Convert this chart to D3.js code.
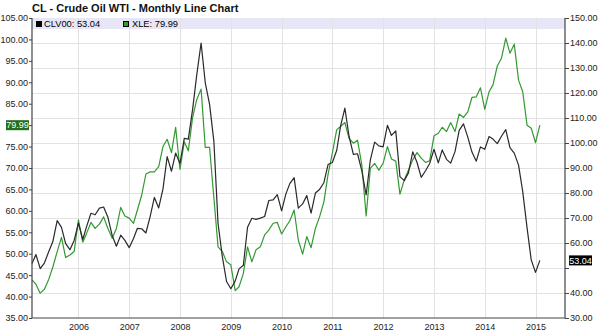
<!DOCTYPE html>
<html><head><meta charset="utf-8">
<script src="https://cdn.jsdelivr.net/npm/d3@7"></script>
<style>
html,body{margin:0;padding:0;background:#fff;}
svg{display:block;font-family:"Liberation Sans",Arial,sans-serif;}
</style></head>
<body><svg id="c" width="598" height="335"></svg>
<script>
// Months: Feb 2005 .. Feb 2015
const startMonth = "2005-02";
// CLV00 monthly close (right axis)
const clValues = [
 51.75,55.40,49.72,51.97,56.50,60.57,68.94,66.24,59.76,57.32,61.04,
 67.92,61.41,66.63,71.88,71.29,73.93,74.40,70.26,62.91,58.73,63.13,61.05,
 58.14,61.79,65.87,65.71,64.01,70.68,78.21,74.04,81.66,94.53,88.71,95.98,
 91.75,101.84,101.58,113.46,127.35,140.00,124.08,115.46,100.64,67.81,54.43,44.60,
 41.68,44.76,49.66,51.12,66.31,69.89,69.45,69.96,70.61,77.00,77.28,79.36,
 72.89,79.66,83.76,86.15,73.97,75.63,78.95,71.92,79.97,81.43,84.11,91.38,
 92.19,96.97,106.72,113.93,102.70,95.42,95.70,88.81,79.20,93.19,100.36,98.83,
 98.48,107.07,103.02,104.87,86.53,84.96,88.06,96.47,92.19,86.24,88.91,91.82,
 97.49,92.05,97.23,93.46,91.97,96.56,105.03,107.65,102.33,96.38,92.72,98.42,
 97.49,102.59,101.58,99.74,102.71,105.37,98.17,95.96,91.16,80.54,66.15,53.27,
 48.24,53.04
];
// XLE monthly close (left axis)
const xleValues = [
 43.9,42.9,40.8,41.7,44.0,46.9,50.5,53.8,49.1,49.7,50.5,
 57.9,52.7,54.8,57.3,55.9,56.9,58.6,55.9,53.6,55.9,60.8,58.8,
 58.3,57.1,60.2,63.7,68.6,69.1,69.1,70.3,75.0,76.7,73.6,79.5,
 69.7,76.1,74.0,81.8,86.0,88.4,74.8,74.8,63.0,51.6,50.5,48.1,
 47.4,41.4,42.3,45.4,51.6,48.1,50.9,51.6,54.4,55.5,57.1,57.3,
 54.6,56.3,57.7,60.2,53.2,49.9,54.0,51.4,55.9,58.6,62.1,68.5,
 73.5,78.9,79.7,80.6,76.9,75.8,76.5,70.7,58.8,69.9,71.1,69.5,
 71.1,75.0,72.1,71.6,63.9,67.2,69.5,71.9,73.6,72.3,71.3,71.7,
 77.5,78.1,79.5,78.5,80.6,78.5,82.6,81.8,83.1,86.5,86.6,88.7,
 83.7,87.8,89.4,93.8,95.6,100.3,96.8,98.9,90.5,87.8,80.0,79.3,
 75.9,79.99
];
const leftTicks = [35,40,45,50,55,60,65,70,75,80,85,90,95,100,105];
const rightTicks = [30,40,50,60,70,80,90,100,110,120,130,140,150];
const yearTicks = [2006,2007,2008,2009,2010,2011,2012,2013,2014,2015];
const titleText = "CL - Crude Oil WTI - Monthly Line Chart";
const clName = "CLV00", xleName = "XLE";
const clLast = "53.04", xleLast = "79.99";

const svg = d3.select("#c");
const L = 32, R = 565, T = 18, B = 318;
const t0 = d3.utcParse("%Y-%m")(startMonth);
const dates = clValues.map((_, i) => d3.utcMonth.offset(t0, i));
const x = d3.scaleUtc().domain([t0, d3.utcMonth.offset(t0, 126)]).range([L, R]);
const yL = d3.scaleLinear().domain([35, 105]).range([B, T]);
const yR = d3.scaleLinear().domain([30, 150]).range([B, T]);

// plot background
svg.append("rect").attr("x", L).attr("y", T).attr("width", R - L).attr("height", B - T).attr("fill", "#fff");

// legend band
svg.append("rect").attr("x", L).attr("y", T).attr("width", R - L).attr("height", 11).attr("fill", "#e6e6f7");

// grid
const grid = svg.append("g").attr("stroke", "#e2e2e2").attr("stroke-width", 1);
rightTicks.forEach(v => {
  const yy = Math.round(yR(v)) + 0.5;
  if (v > 30 && v < 150) grid.append("line").attr("x1", L).attr("x2", R).attr("y1", yy).attr("y2", yy);
});
yearTicks.forEach(yv => {
  const xx = Math.round(x(new Date(Date.UTC(yv, 0, 1)))) + 0.5;
  grid.append("line").attr("x1", xx).attr("x2", xx).attr("y1", T).attr("y2", B);
});

// lines
const clLine = d3.line().x((d, i) => x(dates[i])).y(d => yR(d));
const xleLine = d3.line().x((d, i) => x(dates[i])).y(d => yL(d));
svg.append("path").datum(xleValues).attr("d", xleLine).attr("fill", "none").attr("stroke", "#339933").attr("stroke-width", 1.2).attr("stroke-linejoin", "round");
svg.append("path").datum(clValues).attr("d", clLine).attr("fill", "none").attr("stroke", "#2a2a2a").attr("stroke-width", 1.2).attr("stroke-linejoin", "round");

// legend
const lg = svg.append("g").attr("font-size", "9.3px").attr("fill", "#000");
lg.append("rect").attr("x", 36.5).attr("y", 21.5).attr("width", 5).attr("height", 5).attr("fill", "#000").attr("stroke", "#000");
lg.append("text").attr("x", 44).attr("y", 27.3).text(clName + ": " + clLast);
lg.append("rect").attr("x", 123.5).attr("y", 21.5).attr("width", 5).attr("height", 5).attr("fill", "#339933").attr("stroke", "#000");
lg.append("text").attr("x", 132).attr("y", 27.3).text(xleName + ": " + xleLast);

// axes
const axL = d3.axisLeft(yL).tickValues(leftTicks).tickSize(3).tickPadding(1).tickFormat(d => d === 80 ? "" : d3.format(".2f")(d));
const gL = svg.append("g").attr("transform", `translate(${L},0)`).call(axL);
const axR = d3.axisRight(yR).tickValues(rightTicks).tickSize(4).tickPadding(1).tickFormat(d => d === 50 ? "" : d3.format(".2f")(d));
const gR = svg.append("g").attr("transform", `translate(${R},0)`).call(axR);
const axB = d3.axisBottom(x).tickValues(yearTicks.map(y => new Date(Date.UTC(y, 0, 1)))).tickSize(0).tickPadding(6).tickFormat(d3.utcFormat("%Y"));
const gB = svg.append("g").attr("transform", `translate(0,${B})`).call(axB);
[gL, gR, gB].forEach(g => {
  g.attr("font-family", "Liberation Sans, Arial, sans-serif").attr("font-size", "9px");
  g.selectAll(".domain").attr("stroke", "#444").attr("stroke-width", 1.2);
  g.selectAll(".tick line").attr("stroke", "#444");
  g.selectAll(".tick text").attr("fill", "#222");
});
gL.select(".domain").attr("d", `M0,${T}V${B}`);
gR.select(".domain").attr("d", `M0,${T}V${B}`);
gB.select(".domain").attr("d", `M${L},0H${R}`);

// last value labels
const xv = yL(+xleLast);
svg.append("rect").attr("x", 6).attr("y", xv - 5).attr("width", 23).attr("height", 10).attr("fill", "#1f6f1f");
svg.append("text").attr("x", 17.5).attr("y", xv + 3.2).attr("text-anchor", "middle").attr("font-size", "9px").attr("fill", "#fff").text(xleLast);
const cv = yR(+clLast);
svg.append("rect").attr("x", 569).attr("y", cv - 5).attr("width", 23).attr("height", 10).attr("fill", "#000");
svg.append("text").attr("x", 580.5).attr("y", cv + 3.2).attr("text-anchor", "middle").attr("font-size", "9px").attr("fill", "#fff").text(clLast);

// title
svg.append("text").attr("x", 32).attr("y", 12).attr("font-size", "11px").attr("font-weight", "bold").attr("fill", "#111").text(titleText);
</script></body></html>
